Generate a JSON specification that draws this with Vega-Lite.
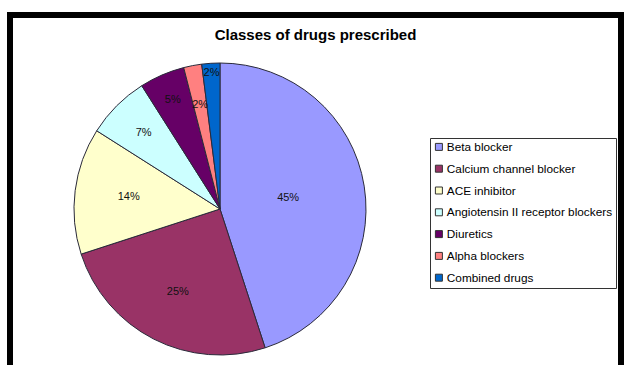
{
  "$schema": "https://vega.github.io/schema/vega-lite/v6.json",
  "width": 611,
  "height": 360,
  "autosize": {"type": "none"},
  "padding": {"left": 10, "top": 15, "right": 3, "bottom": 0},
  "background": "white",
  "view": {"stroke": "black", "strokeWidth": 6},
  "config": {
    "view": {"stroke": "black", "strokeWidth": 6},
    "style": {"cell": {"stroke": "black", "strokeWidth": 6}},
    "font": "Liberation Sans"
  },
  "title": {
    "text": "Classes of drugs prescribed",
    "font": "Liberation Sans",
    "fontSize": 15,
    "fontWeight": "bold",
    "color": "black",
    "anchor": "middle",
    "baseline": "bottom",
    "offset": -43
  },
  "data": {
    "values": [
      {"drug": "Beta blocker", "share": 0.45, "idx": 1},
      {"drug": "Calcium channel blocker", "share": 0.25, "idx": 2},
      {"drug": "ACE inhibitor", "share": 0.14, "idx": 3},
      {"drug": "Angiotensin II receptor blockers", "share": 0.07, "idx": 4},
      {"drug": "Diuretics", "share": 0.05, "idx": 5},
      {"drug": "Alpha blockers", "share": 0.02, "idx": 6},
      {"drug": "Combined drugs", "share": 0.02, "idx": 7}
    ]
  },
  "encoding": {
    "theta": {"field": "share", "type": "quantitative", "stack": true},
    "order": {"field": "idx", "type": "quantitative"},
    "color": {
      "field": "drug",
      "type": "nominal",
      "sort": ["Beta blocker", "Calcium channel blocker", "ACE inhibitor", "Angiotensin II receptor blockers", "Diuretics", "Alpha blockers", "Combined drugs"],
      "scale": {
        "domain": ["Beta blocker", "Calcium channel blocker", "ACE inhibitor", "Angiotensin II receptor blockers", "Diuretics", "Alpha blockers", "Combined drugs"],
        "range": ["#9999FF", "#993366", "#FFFFCC", "#CCFFFF", "#660066", "#FF8080", "#0066CC"]
      },
      "legend": {
        "title": null,
        "orient": "none",
        "legendX": 420,
        "legendY": 123,
        "direction": "vertical",
        "strokeColor": "#333333",
        "padding": 3,
        "symbolType": "square",
        "symbolSize": 49,
        "symbolStrokeColor": "#333333",
        "symbolStrokeWidth": 1,
        "labelFont": "Liberation Sans",
        "labelFontSize": 11.8,
        "labelColor": "black",
        "labelOffset": 2,
        "rowPadding": 8.8,
        "labelLimit": 300,
        "fillColor": "white"
      }
    }
  },
  "layer": [
    {
      "mark": {"type": "arc", "outerRadius": 146, "x": 210, "y": 194, "stroke": "#2a2a3a", "strokeWidth": 1}
    },
    {
      "mark": {
        "type": "text",
        "x": 210,
        "y": 194,
        "fontSize": 11,
        "font": "Liberation Sans",
        "radius": {"expr": "[69, 93, 92, 108, 119, 106, 136][datum.idx - 1]"}
      },
      "encoding": {
        "color": {"value": "#111111"},
        "text": {"field": "share", "type": "quantitative", "format": ".0%"}
      }
    }
  ]
}
